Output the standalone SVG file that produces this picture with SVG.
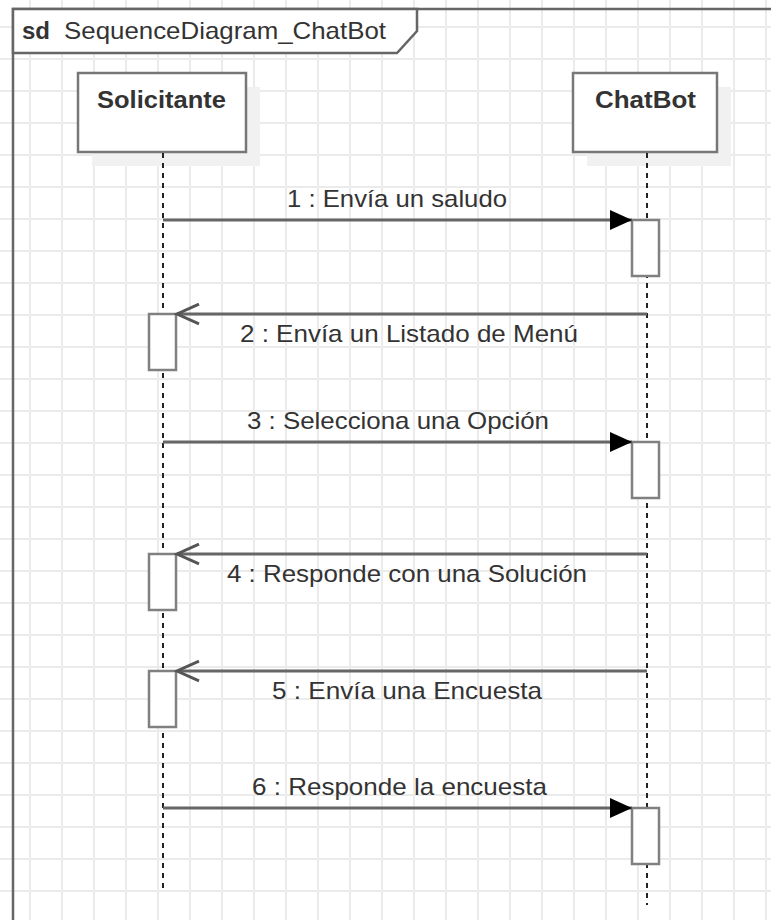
<svg xmlns="http://www.w3.org/2000/svg" width="771" height="920" viewBox="0 0 771 920">
<defs>
<style>
.frame{fill:none;stroke:#666;stroke-width:2.5}
.hdr{fill:#fff;stroke:#666;stroke-width:2.5}
.box{fill:#fff;stroke:#777;stroke-width:2.5}
.shadow{fill:#f1f1f1}
.life{stroke:#222;stroke-width:2;stroke-dasharray:5 5;fill:none}
.act{fill:#fff;stroke:#808080;stroke-width:2.5}
.msg{stroke:#666;stroke-width:3;fill:none}
.sync{marker-end:url(#filled)}
.reply{marker-end:url(#open)}
.lbl{font-family:"Liberation Sans",Arial,sans-serif;font-size:24px;fill:#333}
.b{font-weight:bold}
</style>
<pattern id="grid" patternUnits="userSpaceOnUse" x="14" y="11" width="32" height="32">
<path d="M16 0V32M0 16H32" stroke="#ebebeb" stroke-width="2" fill="none"/>
</pattern>
<marker id="filled" markerUnits="userSpaceOnUse" markerWidth="22" markerHeight="20" viewBox="0 0 21 19" refX="21" refY="9.5" orient="auto" overflow="visible">
<path d="M0,0 L21,9.5 L0,19 Z" fill="#000"/>
</marker>
<marker id="open" markerUnits="userSpaceOnUse" markerWidth="22" markerHeight="20" viewBox="0 0 19 17" refX="19" refY="8.5" orient="auto" overflow="visible">
<path d="M0,0 L19,8.5 L0,17" fill="none" stroke="#555" stroke-width="2.5"/>
</marker>
</defs>
<rect width="771" height="920" fill="#fff"/>
<rect width="771" height="920" fill="url(#grid)"/>

<g id="frame">
<rect class="frame" x="13" y="9" width="800" height="950"/>
<path class="hdr" d="M13,9 H417 V31 L397,53 H13 Z"/>
<text class="lbl" x="22" y="39"><tspan class="b">sd</tspan></text>
<text class="lbl" x="64" y="39" textLength="322" lengthAdjust="spacingAndGlyphs">SequenceDiagram_ChatBot</text>
</g>

<g id="solicitante">
<rect class="shadow" x="92" y="87" width="168" height="79"/>
<rect class="box" x="78" y="73" width="168" height="79"/>
<text class="lbl b" x="97" y="108" textLength="129" lengthAdjust="spacingAndGlyphs">Solicitante</text>
<line class="life" x1="163" y1="153" x2="163" y2="893"/>
<rect class="act" x="149" y="314" width="27" height="56"/>
<rect class="act" x="149" y="554" width="27" height="56"/>
<rect class="act" x="149" y="671" width="27" height="56"/>
</g>

<g id="chatbot">
<rect class="shadow" x="587" y="87" width="144" height="79"/>
<rect class="box" x="573" y="73" width="144" height="79"/>
<text class="lbl b" x="595" y="108" textLength="101" lengthAdjust="spacingAndGlyphs">ChatBot</text>
<line class="life" x1="647" y1="153" x2="647" y2="905"/>
<rect class="act" x="632" y="220" width="27" height="56"/>
<rect class="act" x="632" y="442" width="27" height="56"/>
<rect class="act" x="632" y="808" width="27" height="56"/>
</g>

<g id="connectors">
<line class="msg sync" x1="163" y1="220" x2="632" y2="220"/>
<text class="lbl" x="287" y="207" textLength="220" lengthAdjust="spacingAndGlyphs">1 : Envía un saludo</text>
<line class="msg reply" x1="647" y1="314" x2="177" y2="314"/>
<text class="lbl" x="240" y="342" textLength="338" lengthAdjust="spacingAndGlyphs">2 : Envía un Listado de Menú</text>
<line class="msg sync" x1="163" y1="442" x2="632" y2="442"/>
<text class="lbl" x="247" y="429" textLength="302" lengthAdjust="spacingAndGlyphs">3 : Selecciona una Opción</text>
<line class="msg reply" x1="647" y1="554" x2="177" y2="554"/>
<text class="lbl" x="227" y="582" textLength="360" lengthAdjust="spacingAndGlyphs">4 : Responde con una Solución</text>
<line class="msg reply" x1="647" y1="671" x2="177" y2="671"/>
<text class="lbl" x="272" y="699" textLength="270" lengthAdjust="spacingAndGlyphs">5 : Envía una Encuesta</text>
<line class="msg sync" x1="163" y1="808" x2="632" y2="808"/>
<text class="lbl" x="252" y="795" textLength="295" lengthAdjust="spacingAndGlyphs">6 : Responde la encuesta</text>
</g>
</svg>
